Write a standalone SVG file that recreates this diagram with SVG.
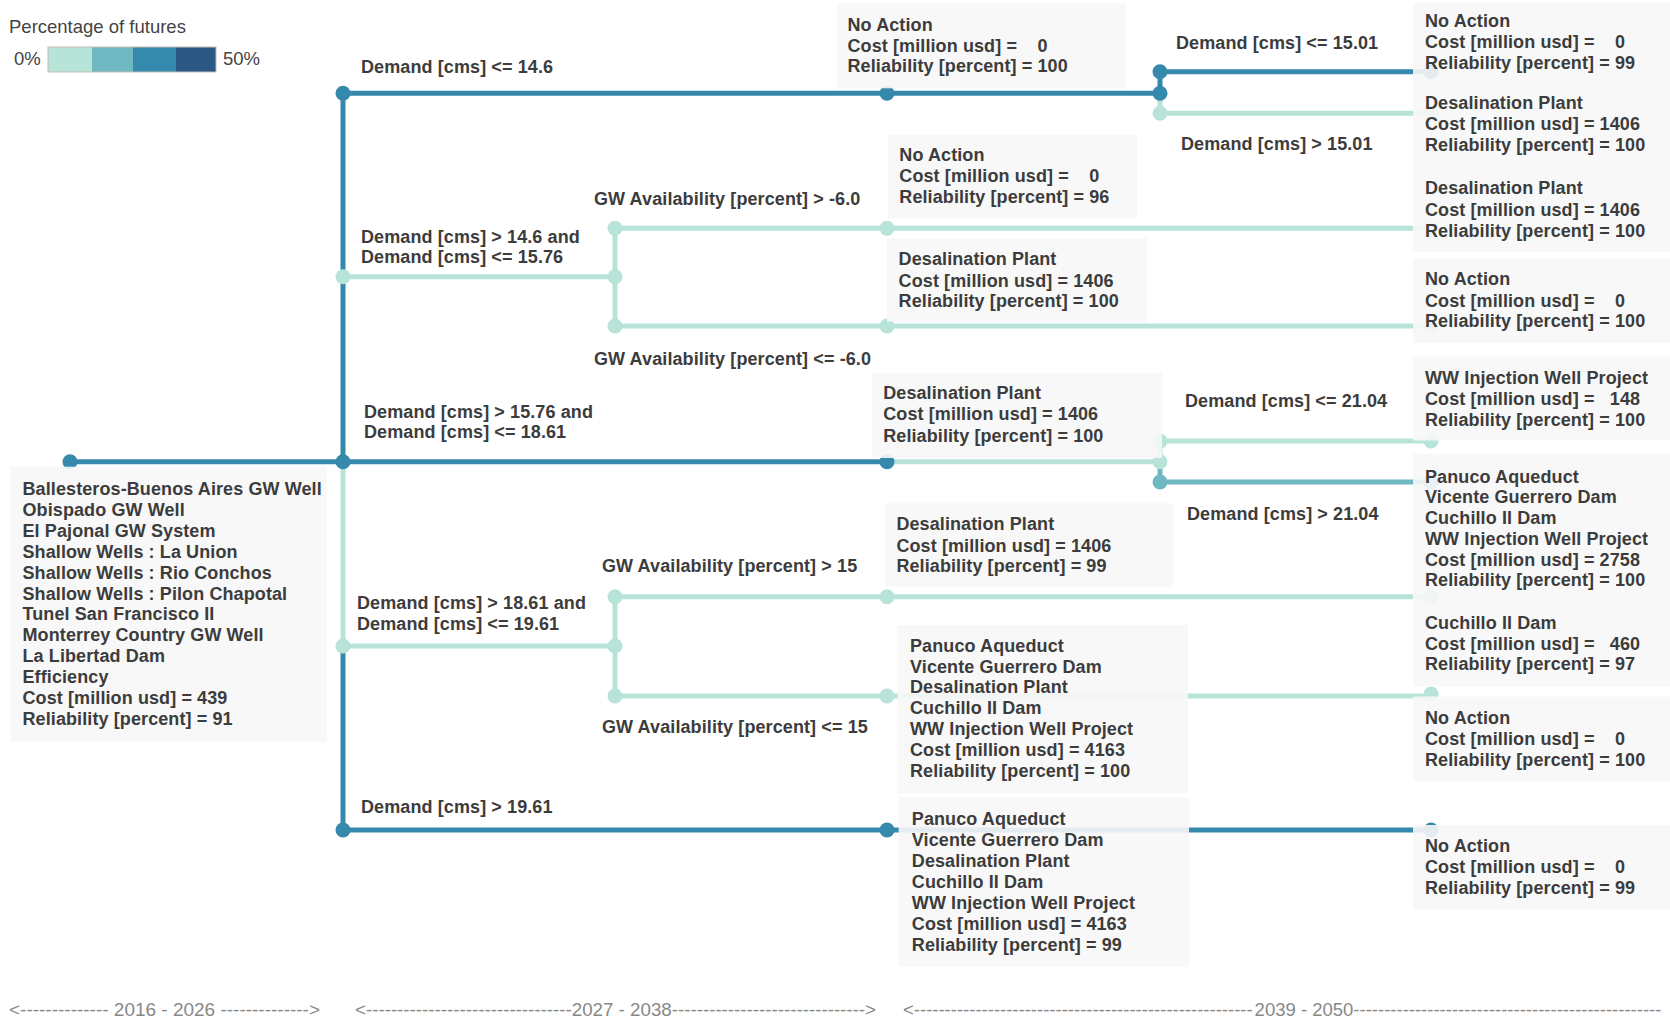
<svg xmlns="http://www.w3.org/2000/svg" width="1670" height="1018" viewBox="0 0 1670 1018">
<style>
text{font-family:"Liberation Sans",Arial,sans-serif;white-space:pre}
.t{font-size:18px;font-weight:bold;fill:#3c3c3c;letter-spacing:0.1px}
.lg{font-size:18.5px;fill:#444}
.ax{font-size:18.5px;fill:#888}
.ln{fill:none;stroke-width:5}
.dk{stroke:#3589ad}
.lt{stroke:#b7e3d8}
.md{stroke:#6fb8c2}
.cd{fill:#3589ad}
.cl{fill:#b7e3d8}
.cm{fill:#6fb8c2}
.box{fill:#f7f7f7;fill-opacity:0.9}
</style>
<rect width="1670" height="1018" fill="#fff"/>
<g id="legend">
<text class="lg" x="9" y="33">Percentage of futures</text>
<text class="lg" x="14" y="65">0%</text>
<rect x="48" y="47" width="44" height="25" fill="#b7e3d8"/>
<rect x="92" y="47" width="41" height="25" fill="#6fb8c2"/>
<rect x="133" y="47" width="43" height="25" fill="#3589ad"/>
<rect x="176" y="47" width="40" height="25" fill="#2c5885"/>
<rect x="48" y="47" width="168" height="25" fill="none" stroke="#c5bcb0" stroke-width="1"/>
<text class="lg" x="223" y="65">50%</text>
</g>
<g id="connectors">
<path class="ln lt" d="M343 461.7V646"/>
<path class="ln dk" d="M70 461.7H887M343 461.7V93.3H1160M1160 93.3V71.7H1431M343 646V830H1431"/>
<path class="ln lt" d="M1160 93.3V113.3H1431"/>
<path class="ln lt" d="M343 276.7H615M615 228.3V326M615 228.3H1431M615 326H1431"/>
<path class="ln lt" d="M887 461.7H1160M1160 461.7V441H1431"/>
<path class="ln md" d="M1160 461.7V482H1431"/>
<path class="ln lt" d="M343 646H615M615 596.7V696M615 596.7H1431M615 696H1431"/>
<g class="cd">
<circle cx="70" cy="461.7" r="7.5"/><circle cx="343" cy="93.3" r="7.5"/><circle cx="343" cy="461.7" r="7.5"/><circle cx="343" cy="830" r="7.5"/>
<circle cx="887" cy="93.3" r="7.5"/><circle cx="887" cy="461.7" r="7.5"/><circle cx="887" cy="830" r="7.5"/>
<circle cx="1160" cy="93.3" r="7.5"/><circle cx="1160" cy="71.7" r="7.5"/>
<circle cx="1431" cy="71.7" r="7.5"/><circle cx="1431" cy="830" r="7.5"/>
</g>
<g class="cl">
<circle cx="343" cy="276.7" r="7.5"/><circle cx="343" cy="646" r="7.5"/>
<circle cx="615" cy="276.7" r="7.5"/><circle cx="615" cy="228.3" r="7.5"/><circle cx="615" cy="326" r="7.5"/>
<circle cx="887" cy="228.3" r="7.5"/><circle cx="887" cy="326" r="7.5"/>
<circle cx="1160" cy="113.3" r="7.5"/>
<circle cx="615" cy="646" r="7.5"/><circle cx="615" cy="596.7" r="7.5"/><circle cx="615" cy="696" r="7.5"/>
<circle cx="887" cy="596.7" r="7.5"/><circle cx="887" cy="696" r="7.5"/>
<circle cx="1160" cy="461.7" r="7.5"/><circle cx="1160" cy="441" r="7.5"/>
<circle cx="1431" cy="113.3" r="7.5"/><circle cx="1431" cy="228.3" r="7.5"/><circle cx="1431" cy="326" r="7.5"/><circle cx="1431" cy="441" r="7.5"/><circle cx="1431" cy="596.7" r="7.5"/><circle cx="1431" cy="694" r="7.5"/>
</g>
<g class="cm"><circle cx="1160" cy="482" r="7.5"/><circle cx="1431" cy="482" r="7.5"/></g>
</g>
<g id="edge-labels" class="t">
<text x="361" y="72.7">Demand [cms] &lt;= 14.6</text>
<text x="361" y="243.3">Demand [cms] &gt; 14.6 and</text>
<text x="361" y="263.3">Demand [cms] &lt;= 15.76</text>
<text x="364" y="418.3">Demand [cms] &gt; 15.76 and</text>
<text x="364" y="438.3">Demand [cms] &lt;= 18.61</text>
<text x="357" y="609.3">Demand [cms] &gt; 18.61 and</text>
<text x="357" y="630">Demand [cms] &lt;= 19.61</text>
<text x="361" y="813.3">Demand [cms] &gt; 19.61</text>
<text x="594" y="205">GW Availability [percent] &gt; -6.0</text>
<text x="594" y="365">GW Availability [percent] &lt;= -6.0</text>
<text x="602" y="571.7">GW Availability [percent] &gt; 15</text>
<text x="602" y="732.7">GW Availability [percent] &lt;= 15</text>
<text x="1176" y="49.3">Demand [cms] &lt;= 15.01</text>
<text x="1181" y="150">Demand [cms] &gt; 15.01</text>
<text x="1185" y="406.7">Demand [cms] &lt;= 21.04</text>
<text x="1187" y="520">Demand [cms] &gt; 21.04</text>
</g>
<g id="node-root">
<rect class="box" x="10.7" y="466.7" width="316" height="275"/>
<text class="t" x="22.5" y="495">Ballesteros-Buenos Aires GW Well</text>
<text class="t" x="22.5" y="515.9">Obispado GW Well</text>
<text class="t" x="22.5" y="536.8">El Pajonal GW System</text>
<text class="t" x="22.5" y="557.7">Shallow Wells : La Union</text>
<text class="t" x="22.5" y="578.6">Shallow Wells : Rio Conchos</text>
<text class="t" x="22.5" y="599.5">Shallow Wells : Pilon Chapotal</text>
<text class="t" x="22.5" y="620.4">Tunel San Francisco II</text>
<text class="t" x="22.5" y="641.3">Monterrey Country GW Well</text>
<text class="t" x="22.5" y="662.2">La Libertad Dam</text>
<text class="t" x="22.5" y="683.1">Efficiency</text>
<text class="t" x="22.5" y="704">Cost [million usd] = 439</text>
<text class="t" x="22.5" y="724.9">Reliability [percent] = 91</text>
</g>
<g id="node-b1">
<rect class="box" x="837" y="3.3" width="289" height="85"/>
<text class="t" x="847.5" y="30.7">No Action</text>
<text class="t" x="847.5" y="51.7">Cost [million usd] =    0</text>
<text class="t" x="847.5" y="71.7">Reliability [percent] = 100</text>
</g>
<g id="node-k1">
<rect class="box" x="888" y="135" width="249" height="83.3"/>
<text class="t" x="899.3" y="160.7">No Action</text>
<text class="t" x="899.3" y="181.7">Cost [million usd] =    0</text>
<text class="t" x="899.3" y="202.7">Reliability [percent] = 96</text>
</g>
<g id="node-k2">
<rect class="box" x="887" y="238.3" width="260.5" height="83.4"/>
<text class="t" x="898.6" y="265">Desalination Plant</text>
<text class="t" x="898.6" y="286.7">Cost [million usd] = 1406</text>
<text class="t" x="898.6" y="307.3">Reliability [percent] = 100</text>
</g>
<g id="node-b3">
<rect class="box" x="872" y="373" width="290" height="85"/>
<text class="t" x="883.2" y="399.3">Desalination Plant</text>
<text class="t" x="883.2" y="420">Cost [million usd] = 1406</text>
<text class="t" x="883.2" y="441.7">Reliability [percent] = 100</text>
</g>
<g id="node-k3">
<rect class="box" x="885" y="503.3" width="288" height="83.4"/>
<text class="t" x="896.4" y="530">Desalination Plant</text>
<text class="t" x="896.4" y="551.7">Cost [million usd] = 1406</text>
<text class="t" x="896.4" y="571.7">Reliability [percent] = 99</text>
</g>
<g id="node-k4">
<rect class="box" x="897.5" y="625" width="290.5" height="168.3"/>
<text class="t" x="910" y="651.7">Panuco Aqueduct</text>
<text class="t" x="910" y="672.5">Vicente Guerrero Dam</text>
<text class="t" x="910" y="693.3">Desalination Plant</text>
<text class="t" x="910" y="714.1">Cuchillo II Dam</text>
<text class="t" x="910" y="734.9">WW Injection Well Project</text>
<text class="t" x="910" y="755.7">Cost [million usd] = 4163</text>
<text class="t" x="910" y="776.5">Reliability [percent] = 100</text>
</g>
<g id="node-b5">
<rect class="box" x="898.6" y="797" width="290.4" height="169.7"/>
<text class="t" x="911.8" y="825">Panuco Aqueduct</text>
<text class="t" x="911.8" y="846">Vicente Guerrero Dam</text>
<text class="t" x="911.8" y="867">Desalination Plant</text>
<text class="t" x="911.8" y="888">Cuchillo II Dam</text>
<text class="t" x="911.8" y="909">WW Injection Well Project</text>
<text class="t" x="911.8" y="930">Cost [million usd] = 4163</text>
<text class="t" x="911.8" y="951">Reliability [percent] = 99</text>
</g>
<g id="leaf-1">
<rect class="box" x="1413" y="3" width="257" height="87"/>
<text class="t" x="1425" y="27">No Action</text>
<text class="t" x="1425" y="48">Cost [million usd] =    0</text>
<text class="t" x="1425" y="69">Reliability [percent] = 99</text>
</g>
<g id="leaf-2">
<rect class="box" x="1413" y="90" width="257" height="82"/>
<text class="t" x="1425" y="109.3">Desalination Plant</text>
<text class="t" x="1425" y="130">Cost [million usd] = 1406</text>
<text class="t" x="1425" y="150.7">Reliability [percent] = 100</text>
</g>
<g id="leaf-3">
<rect class="box" x="1413" y="172" width="257" height="79.7"/>
<text class="t" x="1425" y="194.3">Desalination Plant</text>
<text class="t" x="1425" y="216">Cost [million usd] = 1406</text>
<text class="t" x="1425" y="236.7">Reliability [percent] = 100</text>
</g>
<g id="leaf-4">
<rect class="box" x="1413" y="258" width="257" height="85"/>
<text class="t" x="1425" y="285">No Action</text>
<text class="t" x="1425" y="306.5">Cost [million usd] =    0</text>
<text class="t" x="1425" y="327">Reliability [percent] = 100</text>
</g>
<g id="leaf-5">
<rect class="box" x="1413" y="356.5" width="257" height="84"/>
<text class="t" x="1425" y="384">WW Injection Well Project</text>
<text class="t" x="1425" y="405">Cost [million usd] =   148</text>
<text class="t" x="1425" y="425.5">Reliability [percent] = 100</text>
</g>
<g id="leaf-6">
<rect class="box" x="1413" y="454" width="257" height="154"/>
<text class="t" x="1425" y="482.5">Panuco Aqueduct</text>
<text class="t" x="1425" y="503.3">Vicente Guerrero Dam</text>
<text class="t" x="1425" y="524">Cuchillo II Dam</text>
<text class="t" x="1425" y="545">WW Injection Well Project</text>
<text class="t" x="1425" y="565.7">Cost [million usd] = 2758</text>
<text class="t" x="1425" y="586.4">Reliability [percent] = 100</text>
</g>
<g id="leaf-7">
<rect class="box" x="1413" y="608" width="257" height="78.5"/>
<text class="t" x="1425" y="629.3">Cuchillo II Dam</text>
<text class="t" x="1425" y="650">Cost [million usd] =   460</text>
<text class="t" x="1425" y="670.4">Reliability [percent] = 97</text>
</g>
<g id="leaf-8">
<rect class="box" x="1413" y="696.5" width="257" height="84.5"/>
<text class="t" x="1425" y="724">No Action</text>
<text class="t" x="1425" y="745">Cost [million usd] =    0</text>
<text class="t" x="1425" y="765.5">Reliability [percent] = 100</text>
</g>
<g id="leaf-9">
<rect class="box" x="1413" y="825" width="257" height="85"/>
<text class="t" x="1425" y="851.7">No Action</text>
<text class="t" x="1425" y="873.3">Cost [million usd] =    0</text>
<text class="t" x="1425" y="894">Reliability [percent] = 99</text>
</g>
<g id="axis">
<text class="ax" x="9" y="1016" textLength="311" lengthAdjust="spacingAndGlyphs">&lt;-------------- 2016 - 2026 --------------&gt;</text>
<text class="ax" x="355" y="1016" textLength="521" lengthAdjust="spacingAndGlyphs">&lt;---------------------------------2027 - 2038-------------------------------&gt;</text>
<text class="ax" x="903" y="1016">&lt;-------------------------------------------------------<tspan x="1254.6">2039 - 2050--------------------------------------------------</tspan></text>
</g>
</svg>
